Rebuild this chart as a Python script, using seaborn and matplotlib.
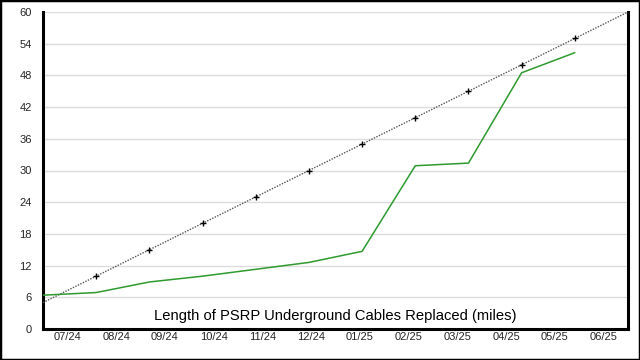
import pandas as pd
import numpy as np
import matplotlib
matplotlib.use('Agg')
import matplotlib.pyplot as plt
from matplotlib.patches import Rectangle
import seaborn as sns

# Data
months = ['07/24', '08/24', '09/24', '10/24', '11/24', '12/24',
          '01/25', '02/25', '03/25', '04/25', '05/25', '06/25']
target_miles = [5, 10, 15, 20, 25, 30, 35, 40, 45, 50, 55, 60]
actual_miles = [6.4, 6.9, 8.9, 10.0, 11.3, 12.6, 14.7, 30.9, 31.4, 48.5, 52.3]
y_ticks = [0, 6, 12, 18, 24, 30, 36, 42, 48, 54, 60]
title = 'Length of PSRP Underground Cables Replaced (miles)'

df_target = pd.DataFrame({'step': range(len(target_miles)), 'miles': target_miles})
df_actual = pd.DataFrame({'step': range(len(actual_miles)), 'miles': actual_miles})

sns.set_theme(style='white')
plt.rcParams['font.family'] = ['Liberation Sans', 'DejaVu Sans']

fig = plt.figure(figsize=(6.4, 3.6), dpi=100)
ax = fig.add_axes([43 / 640, 31 / 360, 585 / 640, 317 / 360])

n_steps = len(target_miles) - 1

# Target line (dotted, + markers on the inner points)
sns.lineplot(data=df_target, x='step', y='miles', ax=ax, color='#555555',
             linestyle=(0, (1, 1)), linewidth=1.0, marker='+', markersize=5,
             markeredgewidth=1.0, markeredgecolor='black',
             markevery=list(range(1, n_steps)), zorder=3)

# Actual line
sns.lineplot(data=df_actual, x='step', y='miles', ax=ax, color='#2f9a2f',
             linewidth=1.1, zorder=4)

ax.set_xlim(0, n_steps)
ax.set_ylim(0, 60)
ax.set_yticks(y_ticks)
ax.set_yticklabels([str(v) for v in y_ticks], fontsize=8)
month_pos = [(i + 0.5) * n_steps / len(months) for i in range(len(months))]
ax.set_xticks(month_pos)
ax.set_xticklabels(months, fontsize=8)
ax.set_xlabel('')
ax.set_ylabel('')

ax.grid(axis='y', color='#dcdcdc', linewidth=1.0)
ax.grid(axis='x', visible=False)
ax.tick_params(axis='y', length=0, pad=8)
ax.tick_params(axis='x', length=0, pad=2)

for side in ['left', 'bottom', 'right']:
    ax.spines[side].set_visible(True)
    ax.spines[side].set_color('black')
    ax.spines[side].set_linewidth(2.2)
ax.spines['top'].set_visible(False)

ax.text(0.5, 0.042, title, transform=ax.transAxes, ha='center', va='center',
        fontsize=10.6, color='black', zorder=5)

# Outer border of the image
fig.patches.append(Rectangle((0, 0), 1, 1, transform=fig.transFigure,
                             fill=False, edgecolor='black', linewidth=2.5))

plt.savefig('out.png', dpi=100)
print('saved out.png')
